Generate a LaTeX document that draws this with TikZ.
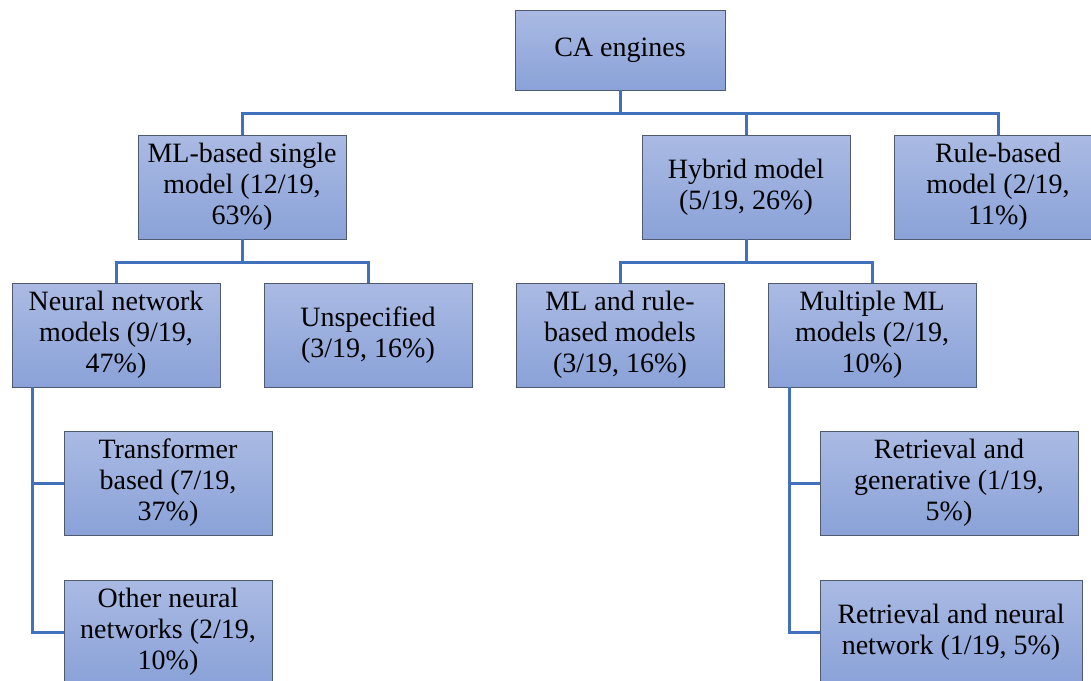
\documentclass[tikz,border=0pt]{standalone}
\usepackage{fontspec}
\setmainfont{Liberation Serif}
\newfontfamily\boxfont{Liberation Serif}
\definecolor{boxtop}{HTML}{AABAE3}
\definecolor{boxbot}{HTML}{8AA2D8}
\definecolor{boxline}{HTML}{4F5A70}
\definecolor{linkblue}{HTML}{4170BC}

\begin{document}
\begin{tikzpicture}[x=1pt, y=-1pt,
    cabox/.style={draw=boxline, line width=0.8pt, top color=boxtop, bottom color=boxbot,
        minimum width=208pt, minimum height=104pt, align=center,
        inner sep=2pt, font=\boxfont\fontsize{28}{31}\selectfont},
    link/.style={draw=linkblue, line width=3pt}]
    \useasboundingbox (0,0) rectangle (1091,680);
    \clip (0,0) rectangle (1091,680);

    \node (ca)[cabox, minimum width=210pt, minimum height=80pt] at (620, 50) {CA engines};
    \node (mls)[cabox] at (242, 187) {ML-based single\\model (12/19,\\63\%)};
    \node (hyb)[cabox] at (746, 187) {Hybrid model\\(5/19, 26\%)};
    \node (rule)[cabox] at (998, 187) {Rule-based\\model (2/19,\\11\%)};
    \node (nn)[cabox] at (116, 335) {Neural network\\models (9/19,\\47\%)};
    \node (unsp)[cabox] at (368, 335) {Unspecified\\(3/19, 16\%)};
    \node (mlrule)[cabox] at (620, 335) {ML and rule-\\based models\\(3/19, 16\%)};
    \node (mult)[cabox] at (872, 335) {Multiple ML\\models (2/19,\\10\%)};
    \node (trans)[cabox] at (168, 483) {Transformer\\based (7/19,\\37\%)};
    \node (other)[cabox] at (168, 632) {Other neural\\networks (2/19,\\10\%)};
    \node (rgen)[cabox, minimum width=258pt] at (949, 483) {Retrieval and\\generative (1/19,\\5\%)};
    \node (rnn)[cabox, minimum width=262pt] at (951, 632) {Retrieval and neural\\network (1/19, 5\%)};

    \coordinate (bus) at (0, 113);
    \coordinate (subbus) at (0, 262);
    \coordinate (nnleg) at (32, 387);
    \coordinate (multleg) at (789, 387);

    \draw[link] (ca.south) -- (ca.south |- bus) -| (mls.north);
    \draw[link] (ca.south |- bus) -| (hyb.north);
    \draw[link] (ca.south |- bus) -| (rule.north);
    \draw[link] (mls.south) -- (mls.south |- subbus) -| (nn.north);
    \draw[link] (mls.south |- subbus) -| (unsp.north);
    \draw[link] (hyb.south) -- (hyb.south |- subbus) -| (mlrule.north);
    \draw[link] (hyb.south |- subbus) -| (mult.north);
    \draw[link] (nnleg) |- (trans.west);
    \draw[link] (nnleg) |- (other.west);
    \draw[link] (multleg) |- (rgen.west);
    \draw[link] (multleg) |- (rnn.west);

\end{tikzpicture}
\end{document}
